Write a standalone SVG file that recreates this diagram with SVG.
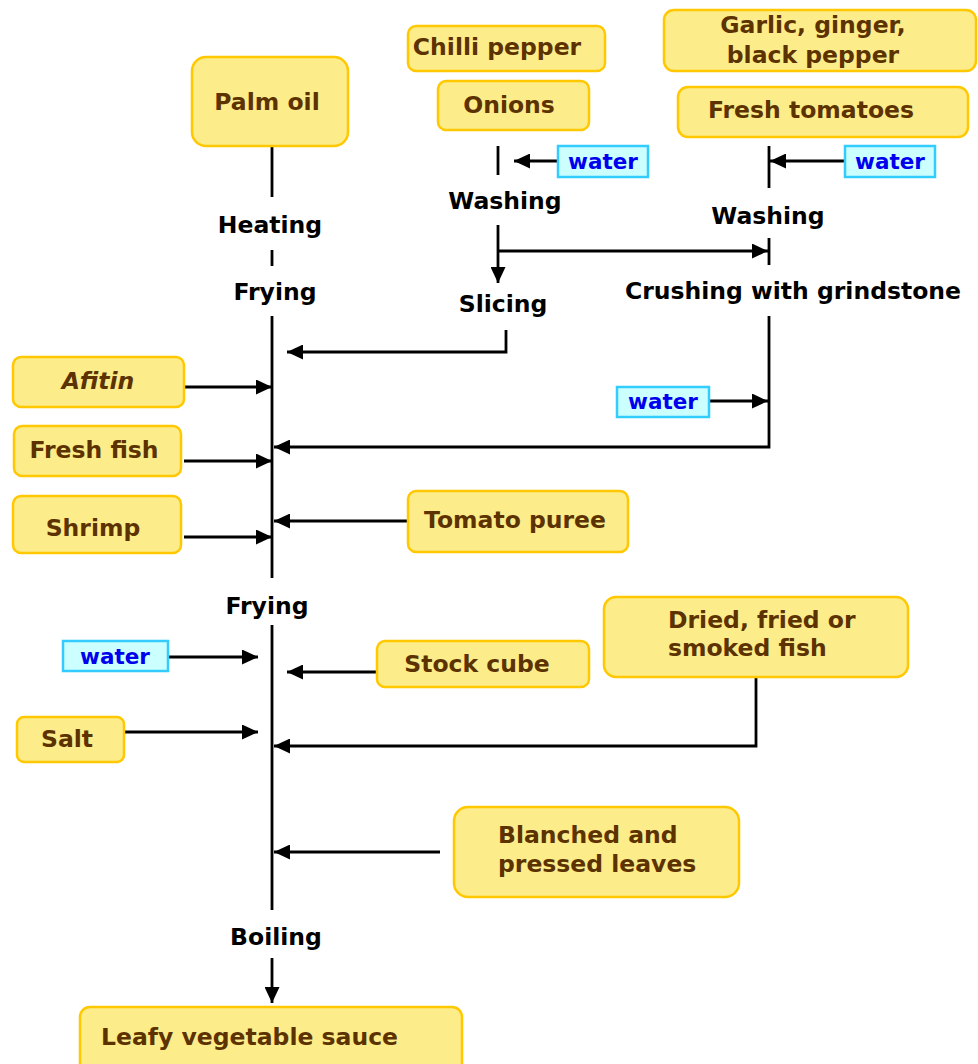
<svg xmlns="http://www.w3.org/2000/svg" width="978" height="1064" viewBox="0 0 978 1064">
  <style>
    .box { fill: #fcec8a; stroke: #ffc800; stroke-width: 2.5; }
    .wbox { fill: #ccffff; stroke: #33ccff; stroke-width: 2.5; }
    .t { font-family: "DejaVu Sans", Verdana, sans-serif; font-weight: bold; font-size: 23.5px; fill: #5c3300; }
    .w { font-family: "DejaVu Sans", Verdana, sans-serif; font-weight: bold; font-size: 21.5px; fill: #0000ee; text-anchor: middle; }
    .step { font-family: "DejaVu Sans", Verdana, sans-serif; font-weight: bold; font-size: 23.5px; fill: #000; text-anchor: middle; }
    .c { text-anchor: middle; }
    .ln { fill: none; stroke: #000; stroke-width: 2.8; }
  </style>
  <defs>
    <marker id="ah" markerUnits="userSpaceOnUse" markerWidth="17" markerHeight="15" refX="16" refY="7.5" orient="auto">
      <path d="M0,0 L16,7.5 L0,15 z" fill="#000"/>
    </marker>
  </defs>
  <rect width="978" height="1064" fill="#fff"/>

  <!-- connectors -->
  <g id="connectors">
    <!-- main line -->
    <line class="ln" x1="272" y1="146" x2="272" y2="197"/>
    <line class="ln" x1="272" y1="250" x2="272" y2="266"/>
    <line class="ln" x1="272" y1="316" x2="272" y2="578"/>
    <line class="ln" x1="272" y1="625" x2="272" y2="910"/>
    <line class="ln" x1="272" y1="958" x2="272" y2="1003" marker-end="url(#ah)"/>

    <!-- onion / chilli branch -->
    <line class="ln" x1="498" y1="146" x2="498" y2="175"/>
    <line class="ln" x1="558" y1="161" x2="514" y2="161" marker-end="url(#ah)"/>
    <line class="ln" x1="498" y1="225" x2="498" y2="283" marker-end="url(#ah)"/>
    <line class="ln" x1="498" y1="251" x2="768" y2="251" marker-end="url(#ah)"/>
    <polyline class="ln" points="506,330 506,352 287,352" marker-end="url(#ah)"/>

    <!-- tomato branch -->
    <line class="ln" x1="769" y1="146" x2="769" y2="188"/>
    <line class="ln" x1="845" y1="161" x2="770" y2="161" marker-end="url(#ah)"/>
    <line class="ln" x1="769" y1="238" x2="769" y2="265"/>
    <polyline class="ln" points="769,316 769,447 274,447" marker-end="url(#ah)"/>
    <line class="ln" x1="709" y1="401" x2="768" y2="401" marker-end="url(#ah)"/>

    <!-- left inputs -->
    <line class="ln" x1="184" y1="387" x2="272" y2="387" marker-end="url(#ah)"/>
    <line class="ln" x1="184" y1="461" x2="272" y2="461" marker-end="url(#ah)"/>
    <line class="ln" x1="184" y1="537" x2="272" y2="537" marker-end="url(#ah)"/>
    <line class="ln" x1="168" y1="657" x2="258" y2="657" marker-end="url(#ah)"/>
    <line class="ln" x1="124" y1="732" x2="258" y2="732" marker-end="url(#ah)"/>

    <!-- right inputs -->
    <line class="ln" x1="408" y1="521" x2="274" y2="521" marker-end="url(#ah)"/>
    <line class="ln" x1="377" y1="672" x2="287" y2="672" marker-end="url(#ah)"/>
    <polyline class="ln" points="756,677 756,746 274,746" marker-end="url(#ah)"/>
    <line class="ln" x1="440" y1="852" x2="274" y2="852" marker-end="url(#ah)"/>
  </g>

  <!-- process steps -->
  <g id="steps">
    <text class="step" x="270" y="233">Heating</text>
    <text class="step" x="275" y="300">Frying</text>
    <text class="step" x="505" y="209">Washing</text>
    <text class="step" x="503" y="312">Slicing</text>
    <text class="step" x="768" y="224">Washing</text>
    <text class="step" x="793" y="299">Crushing with grindstone</text>
    <text class="step" x="267" y="614">Frying</text>
    <text class="step" x="276" y="945">Boiling</text>
  </g>

  <g id="palm-oil">
    <rect class="box" x="192" y="57" width="156" height="89" rx="14"/>
    <text class="t c" x="267" y="110">Palm oil</text>
  </g>
  <g id="chilli-pepper">
    <rect class="box" x="408" y="26" width="197" height="45" rx="8"/>
    <text class="t c" x="497" y="55">Chilli pepper</text>
  </g>
  <g id="onions">
    <rect class="box" x="438" y="81" width="151" height="49" rx="8"/>
    <text class="t c" x="509" y="113">Onions</text>
  </g>
  <g id="garlic">
    <rect class="box" x="664" y="10" width="312" height="61" rx="10"/>
    <text class="t c" x="813" y="33">Garlic, ginger,</text>
    <text class="t c" x="813" y="63">black pepper</text>
  </g>
  <g id="fresh-tomatoes">
    <rect class="box" x="678" y="87" width="290" height="50" rx="10"/>
    <text class="t c" x="811" y="118">Fresh tomatoes</text>
  </g>
  <g id="water-1">
    <rect class="wbox" x="558" y="146" width="90" height="31"/>
    <text class="w" x="603" y="169">water</text>
  </g>
  <g id="water-2">
    <rect class="wbox" x="845" y="146" width="90" height="31"/>
    <text class="w" x="890" y="169">water</text>
  </g>
  <g id="water-3">
    <rect class="wbox" x="617" y="387" width="92" height="30"/>
    <text class="w" x="663" y="409">water</text>
  </g>
  <g id="afitin">
    <rect class="box" x="13" y="357" width="171" height="50" rx="8"/>
    <text class="t c" x="98" y="389" font-style="italic">Afitin</text>
  </g>
  <g id="fresh-fish">
    <rect class="box" x="14" y="426" width="167" height="50" rx="8"/>
    <text class="t c" x="94" y="458">Fresh fish</text>
  </g>
  <g id="shrimp">
    <rect class="box" x="13" y="496" width="168" height="57" rx="8"/>
    <text class="t c" x="93" y="536">Shrimp</text>
  </g>
  <g id="tomato-puree">
    <rect class="box" x="408" y="491" width="220" height="61" rx="8"/>
    <text class="t c" x="515" y="528">Tomato puree</text>
  </g>
  <g id="water-4">
    <rect class="wbox" x="63" y="641" width="105" height="30"/>
    <text class="w" x="115" y="664">water</text>
  </g>
  <g id="stock-cube">
    <rect class="box" x="377" y="641" width="212" height="46" rx="8"/>
    <text class="t c" x="477" y="672">Stock cube</text>
  </g>
  <g id="dried-fish">
    <rect class="box" x="604" y="597" width="304" height="80" rx="12"/>
    <text class="t" x="668" y="628">Dried, fried or</text>
    <text class="t" x="668" y="656">smoked fish</text>
  </g>
  <g id="salt">
    <rect class="box" x="17" y="717" width="107" height="45" rx="7"/>
    <text class="t c" x="67" y="747">Salt</text>
  </g>
  <g id="leaves">
    <rect class="box" x="454" y="807" width="285" height="90" rx="14"/>
    <text class="t" x="498" y="843">Blanched and</text>
    <text class="t" x="498" y="872">pressed leaves</text>
  </g>
  <g id="sauce">
    <rect class="box" x="80" y="1007" width="382" height="70" rx="10"/>
    <text class="t" x="101" y="1045">Leafy vegetable sauce</text>
  </g>
</svg>
